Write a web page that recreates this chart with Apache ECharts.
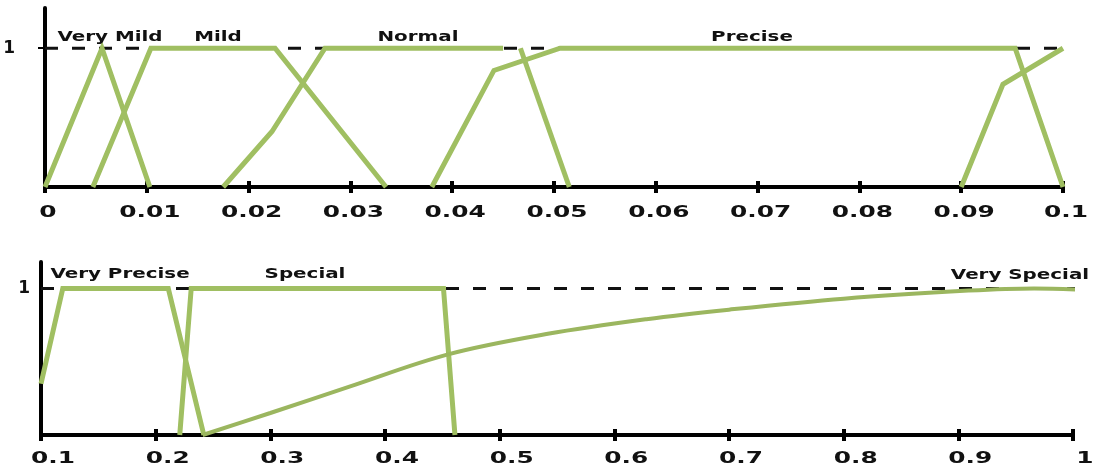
<!DOCTYPE html>
<html><head><meta charset="utf-8">
<script src="https://cdn.jsdelivr.net/npm/echarts@6/dist/echarts.min.js"></script>
<style>html,body{margin:0;padding:0;background:#fff}#c{width:1118px;height:470px}</style>
</head><body><div id="c"></div>
<script>
// ---------- Top panel (x from 0 to 0.1) ----------
const topTickValues = [0, 0.01, 0.02, 0.03, 0.04, 0.05, 0.06, 0.07, 0.08, 0.09, 0.1];
const topTickLabels = ['0', '0.01', '0.02', '0.03', '0.04', '0.05', '0.06', '0.07', '0.08', '0.09', '0.1'];
const veryMild = [[0, 0], [0.0056, 1], [0.0103, 0]];
const mild = [[0.0047, 0], [0.0104, 1], [0.0226, 1], [0.0335, 0]];
const normalRise = [[0.0175, 0], [0.0223, 0.40], [0.0275, 1], [0.0450, 1]];
const normalFall = [[0.0467, 1], [0.0515, 0]];
const precise = [[0.0380, 0], [0.0441, 0.84], [0.0506, 1], [0.0953, 1], [0.1, 0]];
const veryPreciseRise = [[0.09, 0], [0.0941, 0.74], [0.1, 1]];
const topNames = ['Very Mild', 'Mild', 'Normal', 'Precise'];

// ---------- Bottom panel (x from 0.1 to 1) ----------
const bottomTickValues = [0.1, 0.2, 0.3, 0.4, 0.5, 0.6, 0.7, 0.8, 0.9, 1];
const bottomTickLabels = ['0.1', '0.2', '0.3', '0.4', '0.5', '0.6', '0.7', '0.8', '0.9', '1'];
const veryPrecise = [[0.1, 0.35], [0.119, 1], [0.211, 1], [0.242, 0]];
const special = [[0.221, 0], [0.231, 1], [0.451, 1], [0.461, 0]];
const verySpecial = [[0.241, 0], [0.3, 0.15], [0.369, 0.33], [0.455, 0.55], [0.542, 0.69], [0.628, 0.79], [0.7, 0.855], [0.8, 0.93], [0.909, 0.985], [0.966, 1.0], [1.032, 0.98]];
const bottomNames = ['Very Precise', 'Special', 'Very Special'];

const refLevel = 1;

// ---------- styling / layout ----------
const GREEN = '#a0bf62';
const FONT = '"DejaVu Sans", Verdana, sans-serif';
const namePos = {
  'Very Mild': [110, 37], 'Mild': [218, 37], 'Normal': [418, 37], 'Precise': [752, 37],
  'Very Precise': [120, 274], 'Special': [305, 274], 'Very Special': [1020, 275]
};

const chart = echarts.init(document.getElementById('c'), null, {renderer: 'canvas'});

function xAxes(grid, min, max, interval) {
  const base = {gridIndex: grid, type: 'value', min, max, interval, position: 'bottom',
    splitLine: {show: false}, axisLabel: {show: false}};
  return [
    Object.assign({}, base, {axisLine: {show: true, onZero: false, lineStyle: {color: '#000', width: 4}},
      axisTick: {show: true, length: 6, lineStyle: {color: '#000', width: 4}}}),
    Object.assign({}, base, {axisLine: {show: false},
      axisTick: {show: true, inside: true, length: 6, lineStyle: {color: '#000', width: 4}}})
  ];
}
function yAxis(grid, max, margin, tickLen) {
  return {gridIndex: grid, type: 'value', min: 0, max, splitLine: {show: false},
    axisLine: {show: true, lineStyle: {color: '#000', width: 4}},
    axisTick: {show: tickLen > 0, customValues: [refLevel], length: tickLen, lineStyle: {color: '#000', width: 2}},
    axisLabel: {customValues: [refLevel], margin, fontSize: 17, fontWeight: 'bold', color: '#111', fontFamily: FONT}};
}
function line(data, xi, yi, extra) {
  return Object.assign({type: 'line', data, xAxisIndex: xi, yAxisIndex: yi, symbol: 'none', showSymbol: false,
    lineStyle: {color: GREEN, width: 5, join: 'miter'}, z: 3, silent: true, animation: false}, extra || {});
}
function dashed(xi, yi, from, to) {
  return {type: 'line', data: [[from, refLevel], [to, refLevel]], xAxisIndex: xi, yAxisIndex: yi,
    symbol: 'none', lineStyle: {color: '#111', width: 3, type: [13, 14]}, z: 2, clip: false, silent: true, animation: false};
}

const topMin = topTickValues[0], topMax = topTickValues[topTickValues.length - 1];
const botMin = bottomTickValues[0], botMax = bottomTickValues[bottomTickValues.length - 1];

chart.setOption({
  animation: false,
  grid: [
    {left: 45, right: 55, top: 8, height: 179},
    {left: 41, right: 45, top: 262, height: 173}
  ],
  xAxis: [].concat(xAxes(0, topMin, topMax, 0.01), xAxes(1, botMin, botMax, 0.1)),
  yAxis: [yAxis(0, 1.29, 30, 7), yAxis(1, 1.18, 11, 0)],
  series: [
    dashed(0, 0, topMin, topMax * 1.015),
    line(veryMild, 0, 0), line(mild, 0, 0), line(normalRise, 0, 0), line(normalFall, 0, 0),
    line(precise, 0, 0), line(veryPreciseRise, 0, 0),
    dashed(2, 1, botMin, botMax * 1.05),
    line(veryPrecise, 2, 1), line(special, 2, 1),
    line(verySpecial, 2, 1, {smooth: 0.35, clip: false, lineStyle: {color: '#9bb65f', width: 4}})
  ]
});

// ---------- text: tick labels and set names ----------
const g = [];
function txt(s, x, y, size, sx) {
  g.push({type: 'text', x, y, scaleX: sx, z: 10, silent: true,
    style: {text: s, font: 'bold ' + size + 'px ' + FONT, fill: '#111',
      textAlign: 'center', textVerticalAlign: 'middle', align: 'center', verticalAlign: 'middle'}});
}
topTickValues.forEach((v, i) => {
  const p = chart.convertToPixel({xAxisIndex: 0, yAxisIndex: 0}, [v, 0]);
  txt(topTickLabels[i], p[0] + 3, p[1] + 26, 16, 1.55);
});
bottomTickValues.forEach((v, i) => {
  const p = chart.convertToPixel({xAxisIndex: 2, yAxisIndex: 1}, [v, 0]);
  txt(bottomTickLabels[i], p[0] + 12, p[1] + 24, 16, 1.55);
});
topNames.concat(bottomNames).forEach(n => txt(n, namePos[n][0], namePos[n][1], 14, 1.42));
chart.setOption({graphic: g});
</script></body></html>
